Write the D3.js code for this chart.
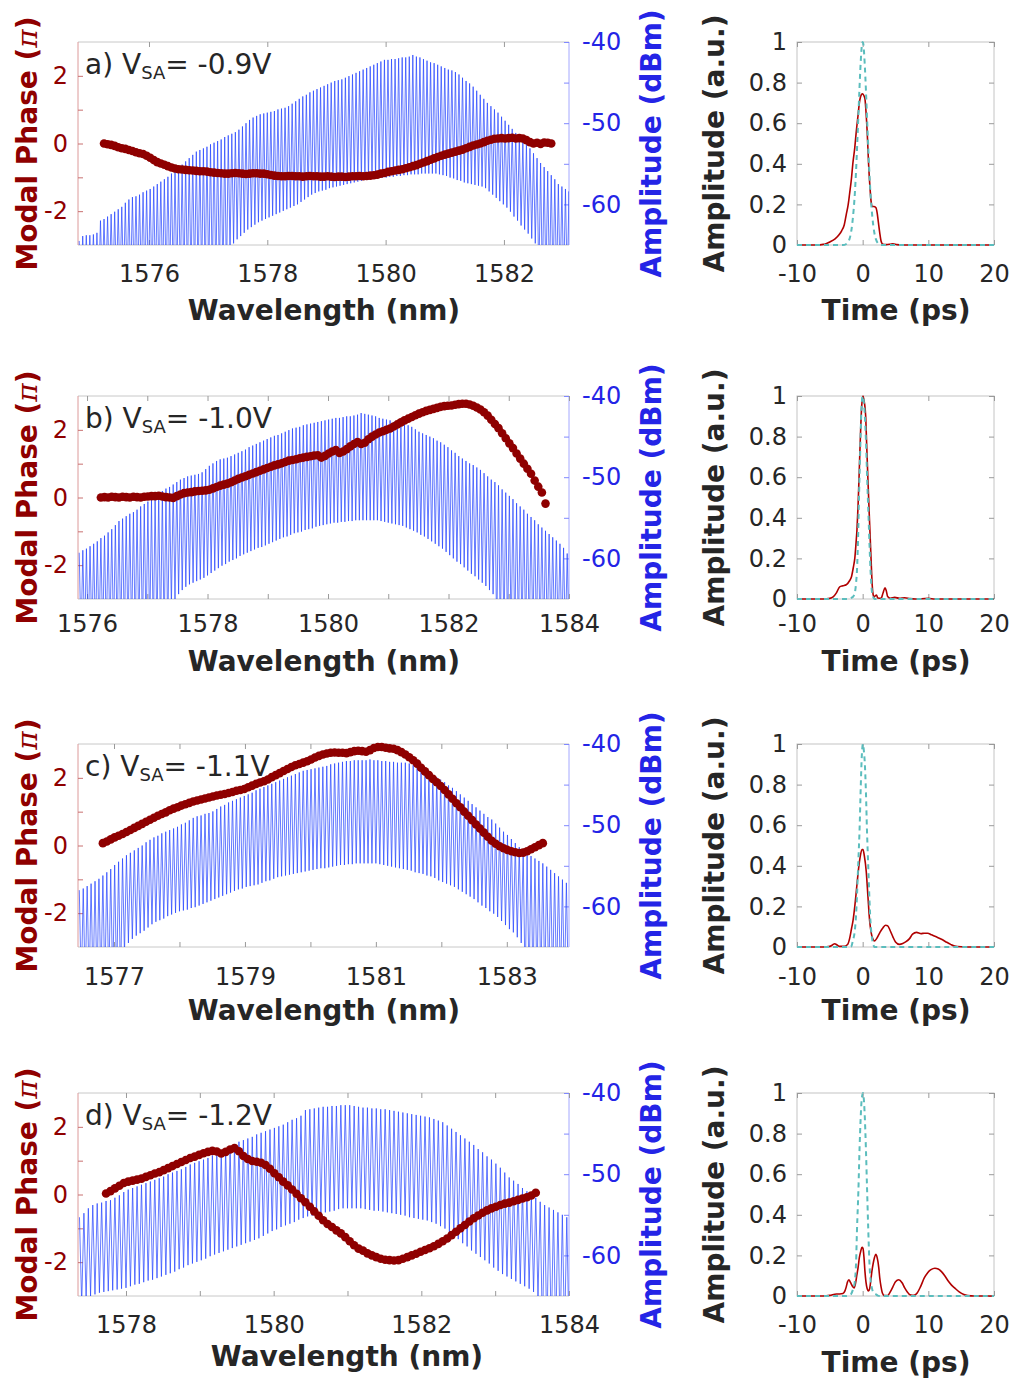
<!DOCTYPE html>
<html>
<head>
<meta charset="utf-8">
<script src="https://cdn.jsdelivr.net/npm/d3@7/dist/d3.min.js"></script>
<style>
body{margin:0;background:#fff;}
svg{display:block;}
text{font-family:"DejaVu Sans",sans-serif;}
</style>
</head>
<body>
<svg id="chart" width="1013" height="1380"></svg>
<script>
// ---------- data ----------
var modeStep = 0.06; // comb spacing (nm)
var letters = ['a)','b)','c)','d)'];
var voltages = ['-0.9V','-1.0V','-1.1V','-1.2V'];

var phaseDomain = [-3, 3];
var phaseTicks = [-2,-1,0,1,2];
var phaseLabels = [-2,0,2];
var ampDomain = [-65, -40];
var ampTicks = [-60,-55,-50,-45,-40];
var ampLabels = [-60,-50,-40];
var timeDomain = [-10, 20];
var timeTicks = [-10,0,10,20];
var pulseTicks = [0,0.2,0.4,0.6,0.8,1];

// panel a
var wlDomainA = [1574.8, 1583.1];
var wlTicksA = [1576,1578,1580,1582];
var wlLabelsA = [1576,1578,1580,1582];
var firstModeA = 1574.82;
var peaksA = [-64.5,-63.9,-63.8,-63.8,-63.7,-63.5,-62,-61.8,-61.5,-61.2,-60.9,-60.6,-60.3,-59.8,-59.4,
  -59.1,-59,-58.8,-58.5,-58.3,-58.1,-57.8,-57.5,-57.2,-56.9,-56.6,-56.2,-55.8,-55.4,-55.1,
  -54.7,-54.3,-53.9,-53.5,-53.3,-53.1,-52.9,-52.6,-52.4,-52.2,-52,-51.7,-51.5,-51.3,-51.1,
  -50.8,-50.4,-50,-49.6,-49.3,-49.1,-48.9,-48.8,-48.7,-48.6,-48.5,-48.3,-48.2,-48.1,-47.9,
  -47.6,-47.3,-47,-46.7,-46.5,-46.2,-46,-45.8,-45.6,-45.4,-45.2,-45,-44.8,-44.7,-44.6,
  -44.4,-44.2,-44,-43.8,-43.6,-43.4,-43.2,-43,-42.8,-42.6,-42.4,-42.2,-42.2,-42.1,-42.1,
  -42,-41.9,-41.9,-41.8,-41.6,-41.8,-41.9,-42.1,-42.3,-42.5,-42.6,-42.8,-43,-43.2,-43.4,
  -43.5,-43.7,-44,-44.4,-44.8,-45.1,-45.5,-46,-46.5,-47,-47.5,-47.9,-48.3,-48.7,-49.2,
  -49.7,-50.2,-50.7,-51.2,-51.6,-52.1,-52.6,-53.1,-53.7,-54.3,-54.9,-55.4,-55.9,-56.4,-56.9,
  -57.5,-57.8,-58.1,-58.4];
var troughsA = [-70,-70,-70,-70,-70,-70,-70,-70,-70,-70,-70,-70,-70,-70,-70,-70,-70,-70,-70,-70,
  -70,-70,-70,-70,-70,-70,-70,-70,-70,-70,-70,-70,-70,-70,-70,-70,-70,-70,-70,-70,
  -70,-70,-66,-64.8,-64.3,-63.9,-63.5,-63.1,-62.8,-62.5,-62.2,-62,-61.8,-61.6,-61.4,
  -61.2,-61,-60.8,-60.6,-60.4,-60.2,-60,-59.7,-59.4,-59.1,-58.8,-58.6,-58.4,-58.3,-58.2,
  -58,-57.9,-57.8,-57.7,-57.6,-57.5,-57.4,-57.3,-57.2,-57.1,-57,-56.9,-56.8,-56.8,-56.7,
  -56.7,-56.7,-56.6,-56.6,-56.5,-56.5,-56.4,-56.4,-56.3,-56.3,-56.3,-56.2,-56.2,-56.2,-56.2,
  -56.2,-56.3,-56.4,-56.5,-56.7,-56.8,-57,-57.1,-57.3,-57.4,-57.5,-57.6,-57.7,-57.8,-58,
  -58.4,-58.8,-59.2,-59.6,-60,-60.4,-60.9,-61.5,-62,-62.6,-63.1,-63.6,-64.2,-64.8,-70,
  -70,-70,-70,-70,-70,-70,-70,-70,-70];
var phaseFirstA = 7;
var phaseA = [0,-0.02,-0.04,-0.07,-0.11,-0.14,-0.16,-0.19,-0.22,-0.26,-0.29,-0.31,-0.36,-0.42,-0.49,-0.55,
  -0.59,-0.63,-0.67,-0.71,-0.74,-0.76,-0.77,-0.78,-0.79,-0.8,-0.81,-0.82,-0.82,-0.83,-0.85,
  -0.86,-0.87,-0.88,-0.89,-0.89,-0.88,-0.87,-0.88,-0.89,-0.9,-0.89,-0.88,-0.88,-0.89,-0.89,
  -0.91,-0.93,-0.95,-0.96,-0.97,-0.97,-0.96,-0.96,-0.97,-0.97,-0.98,-0.97,-0.96,-0.97,-0.97,
  -0.98,-0.98,-0.97,-0.98,-0.99,-0.98,-0.98,-0.99,-0.98,-0.97,-0.97,-0.96,-0.97,-0.96,-0.95,
  -0.94,-0.92,-0.89,-0.87,-0.84,-0.82,-0.8,-0.78,-0.76,-0.73,-0.7,-0.67,-0.64,-0.6,-0.56,
  -0.52,-0.48,-0.44,-0.4,-0.36,-0.33,-0.3,-0.27,-0.24,-0.21,-0.18,-0.14,-0.1,-0.06,-0.03,
  0,0.04,0.08,0.11,0.14,0.15,0.16,0.15,0.16,0.17,0.15,0.16,0.15,0.1,0.04,
  0,0.02,-0.01,0.03,0.02,0];
var pulseRedA = [[-10,0],[-7,0],[-6,0.003],[-5.5,0.008],[-5,0.015],[-4.2,0.03],[-3.6,0.05],[-3.2,0.07],
  [-2.8,0.1],[-2.5,0.15],[-2.2,0.2],[-2,0.25],[-1.7,0.33],[-1.5,0.4],[-1.2,0.48],[-1,0.55],
  [-0.7,0.64],[-0.5,0.7],[-0.2,0.74],[0,0.745],[0.2,0.735],[0.35,0.72],[0.5,0.66],[0.7,0.55],
  [0.9,0.4],[1.1,0.29],[1.3,0.21],[1.45,0.19],[1.7,0.19],[2,0.185],[2.2,0.16],[2.4,0.11],
  [2.6,0.06],[2.8,0.02],[3.1,0.003],[3.6,0.002],[4.2,0.004],[4.6,0.006],[5.2,0.002],[6,0],[20,0]];
var pulseTealA = [[-10,0],[-3,0],[-2.5,0.005],[-2,0.03],[-1.5,0.13],[-1.2,0.25],[-1,0.37],[-0.7,0.6],
  [-0.5,0.76],[-0.3,0.9],[-0.1,0.99],[0,1],[0.1,0.99],[0.3,0.9],[0.5,0.76],[0.7,0.6],[1,0.37],
  [1.2,0.25],[1.5,0.13],[2,0.03],[2.5,0.005],[3,0],[20,0]];

// panel b
var wlDomainB = [1575.85, 1584.0];
var wlTicksB = [1576,1577,1578,1579,1580,1581,1582,1583,1584];
var wlLabelsB = [1576,1578,1580,1582,1584];
var firstModeB = 1575.87;
var peaksB = [-59.3,-59,-58.8,-58.5,-58.2,-57.9,-57.5,-57.2,-56.8,-56.4,-55.9,-55.4,-55.1,-54.8,-54.5,
  -54.3,-54,-53.6,-53.3,-53,-52.8,-52.4,-52,-51.7,-51.4,-51.2,-50.9,-50.6,-50.3,-50.1,
  -49.9,-49.8,-49.7,-49.6,-49.4,-49,-48.6,-48.3,-48,-47.8,-47.7,-47.6,-47.4,-47.2,-47,
  -46.8,-46.6,-46.3,-46.1,-45.9,-45.7,-45.5,-45.3,-45.1,-44.9,-44.8,-44.6,-44.4,-44.2,-44,
  -43.9,-43.8,-43.6,-43.5,-43.4,-43.3,-43.2,-43.1,-43,-42.9,-42.8,-42.7,-42.7,-42.6,-42.5,
  -42.5,-42.4,-42.3,-42.1,-42.2,-42.3,-42.4,-42.5,-42.7,-42.8,-42.9,-43,-43.2,-43.3,-43.4,
  -43.5,-43.6,-43.8,-44.1,-44.4,-44.6,-44.8,-45,-45.2,-45.5,-45.7,-46,-46.3,-46.7,-47,
  -47.4,-47.7,-48,-48.3,-48.5,-48.8,-49.1,-49.5,-49.9,-50.3,-50.6,-51,-51.5,-51.9,-52.3,
  -52.7,-53.2,-53.6,-54,-54.5,-54.9,-55.3,-55.8,-56.2,-56.6,-57,-57.4,-57.8,-58.2,-58.7,-59.4];
var troughsB = [-70,-70,-70,-70,-70,-70,-70,-70,-70,-70,-70,-70,-70,-70,-70,-70,-70,-70,-70,-70,
  -70,-70,-70,-70,-70,-66,-65,-64.4,-63.9,-63.5,-63.2,-63,-62.8,-62.6,-62.4,
  -62.1,-61.8,-61.5,-61.2,-60.9,-60.7,-60.4,-60.2,-60,-59.7,-59.5,-59.3,-59.1,-58.9,-58.7,
  -58.6,-58.4,-58.2,-58,-57.8,-57.6,-57.4,-57.3,-57.1,-56.9,-56.8,-56.7,-56.5,-56.4,-56.3,
  -56.1,-56,-55.9,-55.8,-55.7,-55.6,-55.6,-55.5,-55.5,-55.4,-55.4,-55.3,-55.3,-55.3,-55.3,
  -55.3,-55.3,-55.3,-55.4,-55.5,-55.6,-55.7,-55.8,-55.9,-56,-56.2,-56.4,-56.6,-56.8,-57.1,
  -57.3,-57.6,-57.9,-58.2,-58.5,-58.8,-59.2,-59.6,-60,-60.4,-60.7,-61.1,-61.5,-61.9,-62.2,
  -62.6,-63,-63.4,-63.9,-64.4,-70,-70,-70,-70,-70,-70,-70,-70,-70,-70,
  -70,-70,-70,-70,-70,-70,-70,-70,-70,-70,-70];
var phaseFirstB = 6;
var phaseB = [0,0.01,0,0.02,0.01,0,0.02,0.01,0,0.02,0.01,0,0.02,0.03,0.04,0.04,0.05,0.03,0.01,0,
  -0.01,0.04,0.09,0.13,0.15,0.16,0.18,0.19,0.2,0.21,0.23,0.27,0.31,0.35,0.38,
  0.41,0.45,0.5,0.55,0.59,0.63,0.67,0.71,0.75,0.79,0.83,0.87,0.91,0.95,0.98,
  1.01,1.05,1.09,1.11,1.13,1.16,1.18,1.2,1.22,1.24,1.25,1.18,1.23,1.3,1.36,
  1.4,1.32,1.36,1.43,1.51,1.58,1.64,1.58,1.62,1.72,1.8,1.86,1.92,1.96,2,
  2.04,2.1,2.16,2.22,2.28,2.33,2.38,2.43,2.48,2.52,2.56,2.59,2.62,2.65,2.68,
  2.7,2.71,2.72,2.74,2.76,2.77,2.77,2.75,2.71,2.66,2.6,2.52,2.42,2.3,2.17,
  2.05,1.9,1.75,1.6,1.46,1.3,1.15,1,0.85,0.7,0.5,0.32,0.15,-0.18];
var pulseRedB = [[-10,0],[-6,0],[-5,0.003],[-4.5,0.01],[-4,0.03],[-3.5,0.06],[-3,0.065],[-2.5,0.07],
  [-2,0.09],[-1.7,0.11],[-1.4,0.16],[-1.2,0.2],[-1,0.28],[-0.87,0.34],[-0.7,0.46],[-0.56,0.59],
  [-0.4,0.75],[-0.3,0.84],[-0.15,0.95],[0.05,1],[0.25,0.97],[0.46,0.9],[0.6,0.77],[0.8,0.59],
  [1,0.42],[1.2,0.26],[1.35,0.14],[1.45,0.07],[1.6,0.02],[1.7,0.01],[1.9,0.015],[2.1,0.02],
  [2.3,0.005],[2.8,0.003],[3.1,0.03],[3.4,0.055],[3.6,0.04],[3.8,0.012],[4.2,0.004],[4.9,0.008],
  [5.6,0.003],[6.4,0.006],[7.2,0.002],[8,0],[10,0.003],[11,0],[20,0]];
var pulseTealB = [[-10,0],[-2.2,0],[-1.8,0.005],[-1.5,0.01],[-1.2,0.03],[-1,0.08],[-0.87,0.14],[-0.7,0.3],
  [-0.56,0.5],[-0.4,0.7],[-0.2,0.92],[0,1],[0.15,0.98],[0.3,0.92],[0.5,0.78],[0.7,0.58],
  [0.9,0.4],[1.05,0.26],[1.2,0.14],[1.4,0.04],[1.6,0.01],[1.8,0],[20,0]];

// panel c
var wlDomainC = [1576.45, 1583.95];
var wlTicksC = [1577,1578,1579,1580,1581,1582,1583];
var wlLabelsC = [1577,1579,1581,1583];
var firstModeC = 1576.47;
var peaksC = [-58,-57.8,-57.5,-57.2,-56.9,-56.6,-56.2,-55.8,-55.4,-54.9,-54.5,-54.1,-53.7,-53.4,-53.1,
  -52.8,-52.5,-52.1,-51.8,-51.5,-51.3,-51,-50.8,-50.6,-50.4,-50.2,-49.9,-49.7,-49.4,-49.1,
  -48.9,-48.8,-48.6,-48.5,-48.3,-48,-47.7,-47.5,-47.2,-47,-46.8,-46.6,-46.4,-46.2,-46,
  -45.7,-45.5,-45.3,-45.1,-44.9,-44.7,-44.5,-44.3,-44.1,-43.9,-43.7,-43.5,-43.3,-43.2,-43.1,
  -43,-42.9,-42.8,-42.7,-42.5,-42.4,-42.3,-42.2,-42.1,-42.1,-42,-42,-42,-42,-41.9,
  -42,-42,-42.1,-42.1,-42.2,-42.2,-42.3,-42.3,-42.3,-42.4,-42.6,-42.8,-43,-43.2,-43.5,
  -43.8,-44.1,-44.4,-44.7,-45.1,-45.4,-45.8,-46.2,-46.6,-47,-47.4,-47.8,-48.2,-48.6,-49,
  -49.3,-49.8,-50.3,-50.8,-51.2,-51.7,-52.2,-52.7,-53.1,-53.5,-53.8,-54.1,-54.4,-54.7,-55.1,
  -55.5,-55.9,-56.3,-56.7,-57.1];
var troughsC = [-70,-70,-70,-70,-70,-70,-70,-70,-70,-70,-70,-66,-64.5,-64,-63.6,
  -63.3,-63,-62.6,-62.2,-61.9,-61.7,-61.5,-61.2,-61,-60.8,-60.6,-60.5,-60.4,-60.2,-60.1,
  -59.9,-59.7,-59.5,-59.3,-59.1,-58.9,-58.7,-58.5,-58.3,-58.1,-57.9,-57.8,-57.6,-57.5,-57.4,
  -57.3,-57.1,-56.9,-56.8,-56.6,-56.4,-56.3,-56.2,-56.1,-56,-55.9,-55.8,-55.7,-55.6,-55.5,
  -55.4,-55.3,-55.3,-55.2,-55.1,-55,-54.9,-54.9,-54.8,-54.8,-54.7,-54.7,-54.7,-54.7,-54.7,
  -54.7,-54.8,-54.9,-55,-55.1,-55.2,-55.3,-55.4,-55.5,-55.6,-55.8,-55.9,-56,-56.2,-56.3,
  -56.5,-56.8,-57,-57.2,-57.4,-57.6,-57.9,-58.2,-58.5,-58.8,-59.1,-59.5,-59.9,-60.2,-60.6,
  -60.9,-61.3,-61.8,-62.3,-62.8,-63.2,-63.8,-64.5,-70,-70,-70,-70,-70,-70,-70,
  -70,-70,-70,-70,-70];
var phaseFirstC = 6;
var phaseC = [0.07,0.12,0.18,0.24,0.29,0.34,0.4,0.46,0.52,0.58,0.64,0.7,0.76,0.82,0.88,
  0.93,0.98,1.04,1.09,1.13,1.18,1.22,1.26,1.3,1.33,1.36,1.39,1.42,1.45,1.48,
  1.5,1.52,1.55,1.58,1.62,1.64,1.67,1.72,1.77,1.82,1.86,1.9,1.95,2.02,2.08,
  2.14,2.2,2.26,2.32,2.37,2.41,2.45,2.49,2.54,2.6,2.65,2.69,2.72,2.74,2.75,
  2.74,2.74,2.73,2.76,2.79,2.8,2.79,2.77,2.82,2.88,2.91,2.91,2.89,2.87,2.86,
  2.82,2.76,2.69,2.61,2.52,2.42,2.3,2.19,2.08,1.97,1.87,1.76,1.64,1.51,1.38,
  1.25,1.13,1,0.88,0.75,0.62,0.5,0.38,0.26,0.14,0.05,-0.02,-0.08,-0.13,-0.17,
  -0.2,-0.22,-0.21,-0.17,-0.11,-0.05,0.01,0.07];
var pulseRedC = [[-10,0],[-6,0],[-5,0.003],[-4.6,0.01],[-4.26,0.016],[-3.9,0.01],[-3.5,0.003],[-2.8,0.003],
  [-2.3,0.012],[-2,0.04],[-1.7,0.09],[-1.47,0.13],[-1.2,0.2],[-0.95,0.28],[-0.71,0.36],[-0.4,0.44],
  [-0.1,0.48],[0.05,0.48],[0.25,0.45],[0.55,0.37],[0.8,0.25],[1.06,0.13],[1.3,0.07],[1.55,0.04],
  [1.8,0.03],[2.1,0.04],[2.6,0.07],[3.1,0.095],[3.5,0.107],[3.8,0.105],[4.2,0.08],[4.6,0.05],
  [5,0.025],[5.6,0.013],[6.1,0.017],[6.6,0.026],[7.1,0.04],[7.6,0.063],[8.2,0.072],[8.9,0.066],
  [9.4,0.068],[9.9,0.068],[10.5,0.06],[11.2,0.05],[12,0.038],[12.7,0.025],[13.4,0.013],[14,0.005],
  [15,0.001],[16,0],[20,0]];
var pulseTealC = [[-10,0],[-2,0],[-1.73,0.003],[-1.5,0.03],[-1.2,0.08],[-1,0.16],[-0.87,0.25],[-0.65,0.43],
  [-0.47,0.58],[-0.3,0.78],[-0.12,0.95],[0.05,1],[0.2,0.96],[0.3,0.92],[0.5,0.76],[0.65,0.58],
  [0.85,0.4],[1.05,0.22],[1.2,0.12],[1.4,0.05],[1.6,0.015],[1.8,0],[20,0]];

// panel d
var wlDomainD = [1577.35, 1584.0];
var wlTicksD = [1578,1579,1580,1581,1582,1583,1584];
var wlLabelsD = [1578,1580,1582,1584];
var firstModeD = 1577.37;
var peaksD = [-55.3,-54.8,-54.2,-53.8,-53.6,-53.5,-53.3,-53.2,-52.9,-52.6,-52.2,-51.9,-51.7,-51.5,-51.3,
  -51.1,-50.9,-50.7,-50.5,-50.3,-50,-49.8,-49.6,-49.4,-49.1,-48.8,-48.6,-48.4,-48.2,-48,
  -47.7,-47.5,-47.2,-46.9,-46.6,-46.3,-46,-45.8,-45.6,-45.4,-45.1,-44.9,-44.7,-44.5,-44.3,
  -44.1,-43.9,-43.6,-43.3,-43.1,-42.8,-42.1,-42,-41.9,-41.8,-41.7,-41.7,-41.6,-41.6,-41.5,
  -41.5,-41.5,-41.6,-41.7,-41.8,-41.8,-41.9,-41.9,-42,-42,-42.1,-42.2,-42.3,-42.4,-42.5,
  -42.6,-42.7,-42.8,-42.9,-43,-43.2,-43.4,-43.6,-44,-44.4,-44.8,-45.2,-45.6,-46,-46.4,
  -46.9,-47.3,-47.8,-48.2,-48.7,-49.2,-49.8,-50.4,-50.8,-51.2,-51.7,-52.1,-52.5,-52.9,-53.4,
  -53.8,-54.1,-54.4,-54.7,-55,-55.3];
var troughsD = [-66,-65.5,-65,-64.8,-64.6,-64.5,-64.4,-64.3,-64.2,-64.1,-64,-63.8,-63.6,-63.5,-63.3,
  -63.1,-63,-62.8,-62.6,-62.4,-62.2,-62,-61.7,-61.5,-61.2,-61,-60.8,-60.6,-60.4,-60.1,
  -59.9,-59.7,-59.5,-59.3,-59.1,-58.9,-58.7,-58.5,-58.3,-58.1,-57.9,-57.6,-57.3,-57,-56.8,
  -56.5,-56.3,-56.1,-55.9,-55.6,-55.4,-55.2,-55.1,-54.9,-54.8,-54.7,-54.6,-54.5,-54.3,-54.2,
  -54.2,-54.2,-54.2,-54.2,-54.3,-54.4,-54.5,-54.5,-54.6,-54.7,-54.8,-54.9,-55,-55.1,-55.3,
  -55.4,-55.5,-55.6,-55.7,-55.9,-56.1,-56.4,-56.7,-57.1,-57.6,-58,-58.5,-58.9,-59.4,-59.8,
  -60.2,-60.6,-61,-61.5,-61.9,-62.3,-62.6,-62.9,-63.2,-63.5,-63.8,-64.1,-64.5,-65.2,-70,
  -70,-70,-70,-70,-70,-70];
var phaseFirstD = 6;
var phaseD = [0.03,0.1,0.18,0.26,0.34,0.38,0.41,0.44,0.47,0.52,0.57,0.62,0.66,0.72,0.78,
  0.84,0.9,0.96,1.02,1.08,1.12,1.17,1.22,1.26,1.29,1.27,1.21,1.26,1.33,1.37,
  1.28,1.14,1.05,0.99,0.97,0.94,0.87,0.76,0.63,0.51,0.38,0.27,0.15,0.02,-0.11,
  -0.23,-0.36,-0.5,-0.63,-0.76,-0.87,-0.96,-1.06,-1.15,-1.26,-1.38,-1.5,-1.6,-1.66,-1.74,
  -1.8,-1.85,-1.9,-1.93,-1.94,-1.95,-1.94,-1.9,-1.85,-1.8,-1.75,-1.69,-1.64,-1.59,-1.53,
  -1.46,-1.38,-1.3,-1.2,-1.1,-1,-0.9,-0.8,-0.7,-0.62,-0.54,-0.47,-0.41,-0.36,-0.31,
  -0.27,-0.24,-0.2,-0.16,-0.12,-0.08,-0.03,0.05];
var pulseRedD = [[-10,0],[-6,0],[-5,0.003],[-4,0.01],[-3.5,0.01],[-3,0.012],[-2.7,0.025],[-2.5,0.045],
  [-2.3,0.07],[-2.1,0.08],[-1.9,0.07],[-1.75,0.06],[-1.5,0.045],[-1.3,0.04],[-1.1,0.06],[-0.9,0.1],
  [-0.7,0.14],[-0.5,0.19],[-0.3,0.22],[-0.1,0.24],[0.05,0.235],[0.2,0.19],[0.35,0.12],[0.5,0.07],
  [0.7,0.035],[0.9,0.025],[1.06,0.035],[1.25,0.08],[1.4,0.12],[1.6,0.16],[1.8,0.19],[2,0.205],
  [2.2,0.19],[2.45,0.14],[2.6,0.09],[2.8,0.045],[3,0.015],[3.3,0.002],[3.8,0.002],[4.2,0.02],
  [4.6,0.045],[5,0.07],[5.5,0.08],[6,0.065],[6.4,0.04],[6.8,0.02],[7.2,0.006],[7.8,0.003],
  [8.3,0.015],[8.8,0.045],[9.4,0.09],[9.9,0.115],[10.4,0.13],[11,0.137],[11.5,0.133],[12,0.12],
  [12.5,0.1],[13,0.075],[13.5,0.055],[14,0.04],[14.7,0.02],[15.4,0.007],[16,0.002],[17,0],[20,0]];
var pulseTealD = [[-10,0],[-2.5,0],[-2,0.005],[-1.75,0.01],[-1.5,0.03],[-1.2,0.07],[-1,0.17],[-0.87,0.32],
  [-0.65,0.52],[-0.47,0.73],[-0.3,0.88],[-0.17,0.96],[0.05,1],[0.15,0.98],[0.3,0.9],[0.5,0.72],
  [0.65,0.55],[0.85,0.33],[1.05,0.15],[1.2,0.08],[1.4,0.04],[1.7,0.015],[1.95,0.01],[2.3,0.002],
  [2.6,0],[20,0]];
// ---------- end data ----------

// layout
var svg = d3.select('#chart');
var rowTops = [42, 396, 744, 1093];
var rowH = 203;
var specLeft = 78, specRight = 569;
var pulseLeft = 797, pulseRight = 994;
var textColor = '#262626';
var phaseColor = '#8f0000';
var ampColor = '#2424e6';
var specColor = '#2242ff';

var panels = [
  {id:'a', wl:wlDomainA, ticks:wlTicksA, labels:wlLabelsA, first:firstModeA, peaks:peaksA, troughs:troughsA,
   phFirst:phaseFirstA, phase:phaseA, red:pulseRedA, teal:pulseTealA, pad:20, xlab:320, xlabX:324, tlab:320},
  {id:'b', wl:wlDomainB, ticks:wlTicksB, labels:wlLabelsB, first:firstModeB, peaks:peaksB, troughs:troughsB,
   phFirst:phaseFirstB, phase:phaseB, red:pulseRedB, teal:pulseTealB, pad:16, xlab:671, xlabX:324, tlab:671},
  {id:'c', wl:wlDomainC, ticks:wlTicksC, labels:wlLabelsC, first:firstModeC, peaks:peaksC, troughs:troughsC,
   phFirst:phaseFirstC, phase:phaseC, red:pulseRedC, teal:pulseTealC, pad:21, xlab:1020, xlabX:324, tlab:1020},
  {id:'d', wl:wlDomainD, ticks:wlTicksD, labels:wlLabelsD, first:firstModeD, peaks:peaksD, troughs:troughsD,
   phFirst:phaseFirstD, phase:phaseD, red:pulseRedD, teal:pulseTealD, pad:20, xlab:1366, xlabX:347, tlab:1372}
];

// help function
function styleAxis(g, lineColor, txtColor){
  g.select('.domain').remove();
  g.attr('font-size', 24).attr('font-family', '"DejaVu Sans", sans-serif');
  g.selectAll('line').attr('stroke', lineColor);
  g.selectAll('text').attr('fill', txtColor);
}
function labelOnly(list){
  return function(d){ return list.indexOf(d) >= 0 ? String(d) : ''; };
}

function drawSpectrum(p, idx){
  var top = rowTops[idx], bottom = top + rowH;
  var x = d3.scaleLinear().domain(p.wl).range([specLeft, specRight]);
  var yPh = d3.scaleLinear().domain(phaseDomain).range([bottom, top]);
  var yDb = d3.scaleLinear().domain(ampDomain).range([bottom, top]);
  var g = svg.append('g');

  svg.append('clipPath').attr('id', 'clip' + p.id)
    .append('rect').attr('x', specLeft).attr('y', top)
    .attr('width', specRight - specLeft).attr('height', rowH);

  // box: top/bottom grey, left red, right blue
  g.append('line').attr('x1', specLeft).attr('x2', specRight).attr('y1', top).attr('y2', top).attr('stroke', '#c8c8c8');
  g.append('line').attr('x1', specLeft).attr('x2', specRight).attr('y1', bottom).attr('y2', bottom).attr('stroke', '#c8c8c8');
  g.append('line').attr('x1', specLeft).attr('x2', specLeft).attr('y1', top).attr('y2', bottom).attr('stroke', '#dc9a9a');
  g.append('line').attr('x1', specRight).attr('x2', specRight).attr('y1', top).attr('y2', bottom).attr('stroke', '#a4a8ff');

  var gx = g.append('g').attr('transform', 'translate(0,' + bottom + ')')
    .call(d3.axisBottom(x).tickValues(p.ticks).tickSize(-5).tickSizeOuter(0).tickPadding(p.pad).tickFormat(labelOnly(p.labels)));
  styleAxis(gx, '#9a9a9a', textColor);
  var gxt = g.append('g').attr('transform', 'translate(0,' + top + ')')
    .call(d3.axisTop(x).tickValues(p.ticks).tickSize(-5).tickSizeOuter(0).tickFormat(''));
  styleAxis(gxt, '#9a9a9a', textColor);

  var gl = g.append('g').attr('transform', 'translate(' + specLeft + ',0)')
    .call(d3.axisLeft(yPh).tickValues(phaseTicks).tickSize(-5).tickSizeOuter(0).tickPadding(10).tickFormat(labelOnly(phaseLabels)));
  styleAxis(gl, '#c87070', phaseColor);
  var gr = g.append('g').attr('transform', 'translate(' + specRight + ',0)')
    .call(d3.axisRight(yDb).tickValues(ampTicks).tickSize(-5).tickSizeOuter(0).tickPadding(13).tickFormat(labelOnly(ampLabels)));
  styleAxis(gr, '#8088ff', ampColor);

  // comb spectrum: peak of each mode, then the trough that follows it
  var pts = [];
  p.peaks.forEach(function(v, i){
    var wl = p.first + i * modeStep;
    pts.push([wl, v]);
    pts.push([wl + modeStep / 2, p.troughs[i]]);
  });
  g.append('path').datum(pts)
    .attr('clip-path', 'url(#clip' + p.id + ')')
    .attr('fill', 'none').attr('stroke', specColor).attr('stroke-width', 0.7)
    .attr('d', d3.line().x(function(d){ return x(d[0]); }).y(function(d){ return yDb(d[1]); }));

  // modal phase dots
  g.append('g').selectAll('circle').data(p.phase).enter().append('circle')
    .attr('cx', function(d, j){ return x(p.first + (p.phFirst + j) * modeStep); })
    .attr('cy', function(d){ return yPh(d); })
    .attr('r', 4.3).attr('fill', phaseColor);

  // panel title
  var t = g.append('text').attr('x', 85).attr('y', top + 32).attr('font-size', 28).attr('fill', textColor);
  t.append('tspan').text(letters[idx] + ' V');
  t.append('tspan').attr('font-size', 18).attr('dy', 5).text('SA');
  t.append('tspan').attr('dy', -5).text('= ' + voltages[idx]);

  // axis titles
  var cy = (top + bottom) / 2;
  var lt = g.append('text').attr('transform', 'translate(37,' + cy + ') rotate(-90)')
    .attr('text-anchor', 'middle').attr('font-size', 28).attr('font-weight', 'bold').attr('fill', phaseColor);
  lt.append('tspan').text('Modal Phase (');
  lt.append('tspan').attr('font-family', '"DejaVu Serif", serif').attr('font-style', 'italic').attr('font-weight', 'normal').text('π');
  lt.append('tspan').text(')');
  g.append('text').attr('transform', 'translate(661,' + cy + ') rotate(-90)')
    .attr('text-anchor', 'middle').attr('font-size', 28).attr('font-weight', 'bold').attr('fill', ampColor)
    .text('Amplitude (dBm)');
  g.append('text').attr('x', p.xlabX).attr('y', p.xlab).attr('text-anchor', 'middle')
    .attr('font-size', 28).attr('font-weight', 'bold').attr('fill', textColor).text('Wavelength (nm)');
}

function drawPulse(p, idx){
  var top = rowTops[idx], bottom = top + rowH;
  var x = d3.scaleLinear().domain(timeDomain).range([pulseLeft, pulseRight]);
  var y = d3.scaleLinear().domain([0, 1]).range([bottom, top]);
  var g = svg.append('g');

  g.append('rect').attr('x', pulseLeft).attr('y', top).attr('width', pulseRight - pulseLeft).attr('height', rowH)
    .attr('fill', 'none').attr('stroke', '#c4c4c4');

  var gx = g.append('g').attr('transform', 'translate(0,' + bottom + ')')
    .call(d3.axisBottom(x).tickValues(timeTicks).tickSize(-5).tickSizeOuter(0).tickPadding(p.pad).tickFormat(function(d){ return String(d); }));
  styleAxis(gx, '#9a9a9a', textColor);
  var gxt = g.append('g').attr('transform', 'translate(0,' + top + ')')
    .call(d3.axisTop(x).tickValues(timeTicks).tickSize(-5).tickSizeOuter(0).tickFormat(''));
  styleAxis(gxt, '#9a9a9a', textColor);
  var gy = g.append('g').attr('transform', 'translate(' + pulseLeft + ',0)')
    .call(d3.axisLeft(y).tickValues(pulseTicks).tickSize(-5).tickSizeOuter(0).tickPadding(10).tickFormat(function(d){ return String(d); }));
  styleAxis(gy, '#9a9a9a', textColor);
  var gyr = g.append('g').attr('transform', 'translate(' + pulseRight + ',0)')
    .call(d3.axisRight(y).tickValues(pulseTicks).tickSize(-5).tickSizeOuter(0).tickFormat(''));
  styleAxis(gyr, '#9a9a9a', textColor);

  var line = d3.line().x(function(d){ return x(d[0]); }).y(function(d){ return y(d[1]); }).curve(d3.curveMonotoneX);
  g.append('path').datum(p.red).attr('fill', 'none').attr('stroke', '#b00000').attr('stroke-width', 1.6).attr('d', line);
  g.append('path').datum(p.teal).attr('fill', 'none').attr('stroke', '#5bbdbd').attr('stroke-width', 2)
    .attr('stroke-dasharray', '5,4').attr('d', line);

  var cy = (top + bottom) / 2;
  g.append('text').attr('transform', 'translate(724,' + cy + ') rotate(-90)')
    .attr('text-anchor', 'middle').attr('font-size', 28).attr('font-weight', 'bold').attr('fill', textColor)
    .text('Amplitude (a.u.)');
  g.append('text').attr('x', 896).attr('y', p.tlab).attr('text-anchor', 'middle')
    .attr('font-size', 28).attr('font-weight', 'bold').attr('fill', textColor).text('Time (ps)');
}

// main
panels.forEach(function(p, i){
  drawSpectrum(p, i);
  drawPulse(p, i);
});
</script>
</body>
</html>
